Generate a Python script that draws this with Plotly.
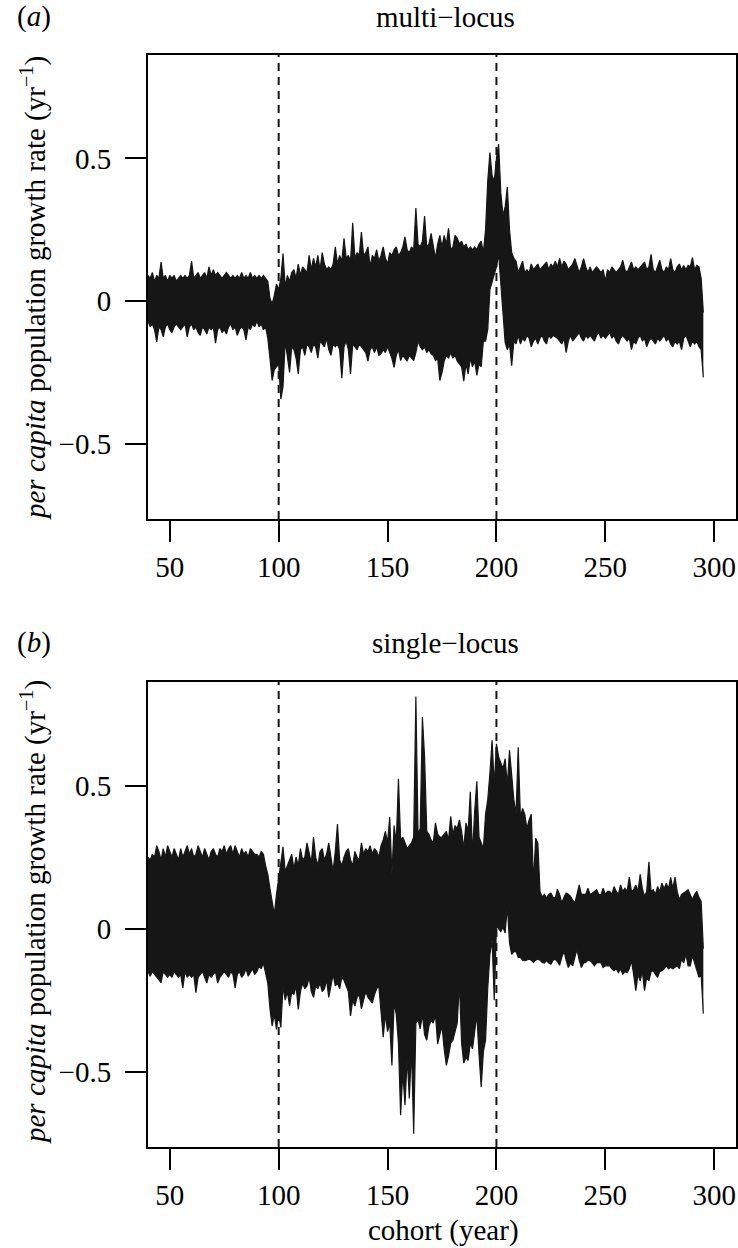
import plotly.graph_objects as go

# ---------------- data ----------------
cohort = list(range(40, 296))

# panel (a) multi-locus: upper / lower envelope of the bundle of simulated lines
multi_upper = [
    0.09, 0.08, 0.10, 0.07, 0.09, 0.08, 0.137, 0.08, 0.09, 0.07,
    0.09, 0.08, 0.09, 0.07, 0.08, 0.09, 0.08, 0.09, 0.08, 0.09,
    0.14, 0.08, 0.09, 0.10, 0.08, 0.09, 0.10, 0.08, 0.12, 0.09,
    0.11, 0.09, 0.10, 0.09, 0.08, 0.09, 0.10, 0.09, 0.08, 0.09,
    0.08, 0.09, 0.08, 0.10, 0.08, 0.09, 0.08, 0.10, 0.08, 0.09,
    0.08, 0.09, 0.08, 0.09, 0.08, 0.07, 0.01, -0.01, 0.02, 0.06,
    0.04, 0.08, 0.167, 0.05, 0.09, 0.07, 0.10, 0.11, 0.08, 0.13,
    0.09, 0.12, 0.11, 0.10, 0.16, 0.11, 0.15, 0.12, 0.16, 0.11,
    0.17, 0.13, 0.11, 0.12, 0.11, 0.13, 0.19, 0.13, 0.16, 0.14,
    0.22, 0.15, 0.16, 0.14, 0.274, 0.15, 0.17, 0.16, 0.242, 0.16,
    0.17, 0.19, 0.12, 0.16, 0.15, 0.18, 0.14, 0.16, 0.19, 0.15,
    0.13, 0.17, 0.16, 0.18, 0.19, 0.16, 0.17, 0.19, 0.225, 0.18,
    0.17, 0.19, 0.18, 0.326, 0.20, 0.19, 0.21, 0.298, 0.19, 0.20,
    0.237, 0.19, 0.15, 0.20, 0.23, 0.19, 0.23, 0.20, 0.255, 0.18,
    0.19, 0.23, 0.22, 0.20, 0.21, 0.19, 0.20, 0.18, 0.19, 0.18,
    0.19, 0.18, 0.20, 0.21, 0.17, 0.25, 0.42, 0.52, 0.44, 0.42,
    0.50, 0.55, 0.38, 0.30, 0.33, 0.40, 0.25, 0.17, 0.15, 0.14,
    0.10, 0.12, 0.14, 0.10, 0.11, 0.10, 0.13, 0.11, 0.12, 0.13,
    0.11, 0.12, 0.13, 0.137, 0.11, 0.13, 0.12, 0.14, 0.12, 0.15,
    0.12, 0.14, 0.13, 0.11, 0.12, 0.13, 0.149, 0.12, 0.10, 0.12,
    0.149, 0.12, 0.10, 0.12, 0.10, 0.11, 0.12, 0.11, 0.10, 0.11,
    0.07, 0.11, 0.10, 0.12, 0.11, 0.10, 0.11, 0.12, 0.143, 0.11,
    0.10, 0.12, 0.137, 0.11, 0.12, 0.11, 0.12, 0.13, 0.137, 0.11,
    0.12, 0.164, 0.11, 0.10, 0.12, 0.143, 0.11, 0.10, 0.12, 0.11,
    0.149, 0.11, 0.10, 0.12, 0.13, 0.11, 0.125, 0.11, 0.125, 0.12,
    0.152, 0.11, 0.125, 0.12, 0.08, -0.04,
]
multi_lower = [
    -0.07, -0.09, -0.08, -0.10, -0.143, -0.09, -0.10, -0.125, -0.09, -0.08,
    -0.10, -0.11, -0.09, -0.08, -0.09, -0.10, -0.09, -0.08, -0.125, -0.09,
    -0.08, -0.10, -0.09, -0.11, -0.12, -0.09, -0.10, -0.115, -0.09, -0.10,
    -0.09, -0.147, -0.10, -0.09, -0.11, -0.10, -0.115, -0.09, -0.08, -0.10,
    -0.09, -0.12, -0.10, -0.09, -0.10, -0.136, -0.09, -0.10, -0.08, -0.09,
    -0.07, -0.09, -0.08, -0.10, -0.09, -0.13, -0.20, -0.278, -0.24, -0.23,
    -0.22, -0.343, -0.30, -0.14, -0.20, -0.25, -0.16, -0.17, -0.20, -0.255,
    -0.17, -0.16, -0.19, -0.15, -0.16, -0.18, -0.15, -0.16, -0.20, -0.14,
    -0.15, -0.16, -0.13, -0.17, -0.19, -0.15, -0.16, -0.15, -0.17, -0.27,
    -0.16, -0.14, -0.17, -0.255, -0.15, -0.16, -0.17, -0.15, -0.16, -0.17,
    -0.18, -0.21, -0.17, -0.16, -0.18, -0.16, -0.19, -0.185, -0.17, -0.18,
    -0.16, -0.18, -0.20, -0.232, -0.19, -0.17, -0.208, -0.19, -0.20, -0.21,
    -0.19, -0.20, -0.208, -0.18, -0.14, -0.16, -0.17, -0.16, -0.18, -0.17,
    -0.185, -0.19, -0.208, -0.20, -0.278, -0.25, -0.21, -0.19, -0.20, -0.18,
    -0.20, -0.19, -0.21, -0.22, -0.23, -0.28, -0.22, -0.255, -0.20, -0.23,
    -0.21, -0.26, -0.22, -0.23, -0.14, -0.14, -0.10, 0.04, 0.07, 0.09,
    0.12, 0.166, 0.05, -0.06, -0.145, -0.17, -0.15, -0.226, -0.14, -0.15,
    -0.12, -0.15, -0.13, -0.14, -0.12, -0.13, -0.16, -0.14, -0.13, -0.15,
    -0.13, -0.12, -0.14, -0.15, -0.12, -0.13, -0.12, -0.125, -0.13, -0.14,
    -0.15, -0.13, -0.18, -0.14, -0.12, -0.14, -0.13, -0.12, -0.11, -0.13,
    -0.14, -0.12, -0.13, -0.12, -0.13, -0.14, -0.12, -0.11, -0.13, -0.12,
    -0.13, -0.12, -0.11, -0.13, -0.12, -0.14, -0.15, -0.13, -0.12, -0.13,
    -0.14, -0.13, -0.17, -0.14, -0.15, -0.13, -0.12, -0.14, -0.13, -0.16,
    -0.14, -0.13, -0.14, -0.15, -0.13, -0.14, -0.13, -0.12, -0.14, -0.13,
    -0.15, -0.16, -0.14, -0.15, -0.14, -0.17, -0.13, -0.12, -0.14, -0.16,
    -0.14, -0.15, -0.14, -0.16, -0.17, -0.267,
]

# panel (b) single-locus
single_upper = [
    0.25, 0.24, 0.26, 0.25, 0.29, 0.27, 0.24, 0.28, 0.25, 0.29,
    0.27, 0.25, 0.28, 0.26, 0.24, 0.28, 0.25, 0.27, 0.29, 0.26,
    0.28, 0.25, 0.26, 0.29, 0.27, 0.25, 0.28, 0.26, 0.24, 0.27,
    0.28, 0.26, 0.25, 0.28, 0.27, 0.29, 0.26, 0.28, 0.29, 0.26,
    0.29, 0.27, 0.25, 0.28, 0.26, 0.27, 0.25, 0.28, 0.27, 0.26,
    0.26, 0.25, 0.27, 0.26, 0.22, 0.19, 0.14, 0.10, 0.05, 0.12,
    0.18, 0.22, 0.286, 0.20, 0.22, 0.24, 0.26, 0.21, 0.25, 0.22,
    0.28, 0.24, 0.25, 0.30, 0.26, 0.23, 0.32, 0.25, 0.22, 0.27,
    0.28, 0.24, 0.26, 0.30, 0.25, 0.20, 0.27, 0.366, 0.24, 0.22,
    0.25, 0.27, 0.28, 0.24, 0.22, 0.27, 0.25, 0.24, 0.30, 0.26,
    0.28, 0.27, 0.29, 0.26, 0.28, 0.27, 0.25, 0.29, 0.31, 0.34,
    0.30, 0.39, 0.19, 0.36, 0.30, 0.524, 0.31, 0.32, 0.30, 0.28,
    0.29, 0.30, 0.32, 0.811, 0.33, 0.35, 0.74, 0.60, 0.34, 0.33,
    0.31, 0.30, 0.37, 0.33, 0.32, 0.32, 0.33, 0.34, 0.31, 0.393,
    0.33, 0.36, 0.35, 0.38, 0.34, 0.28, 0.37, 0.34, 0.478, 0.26,
    0.41, 0.515, 0.32, 0.30, 0.28, 0.40, 0.45, 0.542, 0.658, 0.50,
    0.646, 0.60, 0.58, 0.56, 0.594, 0.50, 0.623, 0.53, 0.45, 0.40,
    0.634, 0.39, 0.42, 0.40, 0.35, 0.38, 0.40, 0.16, 0.316, 0.30,
    0.13, 0.11, 0.12, 0.107, 0.12, 0.124, 0.11, 0.107, 0.138, 0.12,
    0.09, 0.11, 0.124, 0.12, 0.113, 0.10, 0.09, 0.12, 0.153, 0.12,
    0.119, 0.12, 0.141, 0.12, 0.124, 0.13, 0.136, 0.12, 0.119, 0.141,
    0.12, 0.13, 0.13, 0.12, 0.147, 0.13, 0.12, 0.153, 0.13, 0.141,
    0.13, 0.18, 0.13, 0.136, 0.153, 0.13, 0.19, 0.14, 0.113, 0.13,
    0.234, 0.13, 0.136, 0.12, 0.147, 0.13, 0.159, 0.14, 0.159, 0.14,
    0.179, 0.14, 0.18, 0.13, 0.101, 0.12, 0.124, 0.13, 0.136, 0.12,
    0.101, 0.12, 0.13, 0.11, 0.095, -0.07,
]
single_lower = [
    -0.15, -0.166, -0.15, -0.16, -0.17, -0.18, -0.189, -0.15, -0.16, -0.17,
    -0.16, -0.17, -0.15, -0.16, -0.17, -0.16, -0.207, -0.15, -0.17, -0.16,
    -0.17, -0.16, -0.224, -0.17, -0.16, -0.15, -0.17, -0.19, -0.16, -0.17,
    -0.16, -0.15, -0.19, -0.17, -0.16, -0.15, -0.16, -0.17, -0.15, -0.16,
    -0.207, -0.16, -0.15, -0.17, -0.16, -0.14, -0.166, -0.15, -0.14, -0.16,
    -0.15, -0.13, -0.14, -0.12, -0.15, -0.19, -0.28, -0.34, -0.30, -0.352,
    -0.30, -0.345, -0.20, -0.25, -0.22, -0.27, -0.22, -0.23, -0.20, -0.282,
    -0.22, -0.19, -0.21, -0.20, -0.17, -0.22, -0.24, -0.20, -0.21, -0.19,
    -0.22, -0.21, -0.18, -0.24, -0.20, -0.16, -0.20, -0.19, -0.21, -0.17,
    -0.18, -0.20, -0.22, -0.305, -0.25, -0.27, -0.24, -0.23, -0.28, -0.25,
    -0.22, -0.24, -0.25, -0.26, -0.23, -0.21, -0.20, -0.28, -0.379, -0.30,
    -0.36, -0.33, -0.478, -0.26, -0.30, -0.40, -0.652, -0.50, -0.617, -0.45,
    -0.593, -0.42, -0.717, -0.33, -0.32, -0.35, -0.30, -0.37, -0.39, -0.34,
    -0.32, -0.33, -0.30, -0.403, -0.37, -0.34, -0.42, -0.478, -0.445, -0.40,
    -0.39, -0.36, -0.33, -0.19, -0.40, -0.47, -0.45, -0.46, -0.40, -0.42,
    -0.36, -0.30, -0.44, -0.553, -0.43, -0.39, -0.21, -0.09, -0.04, -0.25,
    0.01, 0.0, -0.01, 0.005, -0.015, 0.08, -0.05, -0.09, -0.08, -0.08,
    -0.10, -0.10, -0.11, -0.112, -0.11, -0.107, -0.11, -0.118, -0.11, -0.107,
    -0.11, -0.118, -0.12, -0.112, -0.12, -0.124, -0.11, -0.107, -0.115, -0.128,
    -0.10, -0.078, -0.11, -0.136, -0.12, -0.13, -0.10, -0.072, -0.11, -0.136,
    -0.12, -0.118, -0.11, -0.112, -0.12, -0.13, -0.12, -0.118, -0.12, -0.136,
    -0.13, -0.13, -0.13, -0.14, -0.147, -0.14, -0.153, -0.14, -0.159, -0.15,
    -0.153, -0.14, -0.112, -0.16, -0.217, -0.16, -0.182, -0.15, -0.217, -0.17,
    -0.182, -0.15, -0.147, -0.16, -0.17, -0.15, -0.147, -0.14, -0.13, -0.14,
    -0.136, -0.14, -0.136, -0.13, -0.14, -0.107, -0.12, -0.089, -0.13, -0.13,
    -0.095, -0.12, -0.14, -0.17, -0.16, -0.297,
]

x_ticks = [50, 100, 150, 200, 250, 300]
y_ticks = [-0.5, 0, 0.5]
y_tick_text = ["\u22120.5", "0", "0.5"]
change_years = [100, 200]
panel_titles = ["multi\u2212locus", "single\u2212locus"]
panel_tags = ["(<i>a</i>)", "(<i>b</i>)"]
y_title = "<i>per capita</i> population growth rate (yr<sup>\u22121</sup>)"
x_title = "cohort (year)"

for arr in (multi_upper, multi_lower, single_upper, single_lower):
    assert len(arr) == len(cohort), len(arr)

# ---------------- figure ----------------
W, H = 738, 1248
INK = "#161616"
FONT = "Liberation Serif, Times New Roman, serif"
FS = 29

def py(px):  # pixel row -> paper fraction
    return 1 - px / H

def pxf(px):
    return px / W

fig = go.Figure()
panels = [
    ("x", "y", multi_lower, multi_upper),
    ("x2", "y2", single_lower, single_upper),
]
for xa, ya, lo, up in panels:
    fig.add_trace(go.Scatter(x=cohort, y=lo, mode="lines", xaxis=xa, yaxis=ya,
                             line=dict(color=INK, width=1.2), showlegend=False,
                             hoverinfo="skip"))
    fig.add_trace(go.Scatter(x=cohort, y=up, mode="lines", xaxis=xa, yaxis=ya,
                             fill="tonexty", fillcolor=INK,
                             line=dict(color=INK, width=1.2), showlegend=False,
                             hoverinfo="skip"))

XR = [40, 310]
YR = [-0.763, 0.862]
xdom = [pxf(148), pxf(736)]
ydoms = [[py(519), py(55)], [py(1147), py(682)]]

axis_common = dict(showgrid=False, zeroline=False, showline=True, mirror=True,
                   linecolor="black", linewidth=2, ticks="outside", ticklen=21,
                   tickwidth=2, tickcolor="black",
                   tickfont=dict(family=FONT, size=FS, color="black"))

fig.update_layout(
    width=W, height=H,
    margin=dict(l=0, r=0, t=0, b=0),
    paper_bgcolor="white", plot_bgcolor="white",
    xaxis=dict(domain=xdom, range=XR, anchor="y", tickvals=x_ticks,
               ticklabelstandoff=0, **axis_common),
    yaxis=dict(domain=ydoms[0], range=YR, anchor="x", tickvals=y_ticks,
               ticktext=y_tick_text, ticklabelstandoff=8, **axis_common),
    xaxis2=dict(domain=xdom, range=XR, anchor="y2", tickvals=x_ticks,
                ticklabelstandoff=0, **axis_common),
    yaxis2=dict(domain=ydoms[1], range=YR, anchor="x2", tickvals=y_ticks,
                ticktext=y_tick_text, ticklabelstandoff=8, **axis_common),
)

shapes = []
for ya in ("y", "y2"):
    xa = "x" if ya == "y" else "x2"
    for cy in change_years:
        shapes.append(dict(type="line", xref=xa, yref=f"{ya} domain",
                           x0=cy, x1=cy, y0=0, y1=1,
                           line=dict(color=INK, width=2, dash="8px,6px"),
                           layer="above"))
fig.update_layout(shapes=shapes)

ann = []
font = dict(family=FONT, size=FS, color="black")
title_rows = [17, 643]
mid_rows = [288, 912]
for i in range(2):
    ann.append(dict(text=panel_titles[i], x=pxf(445), y=py(title_rows[i]),
                    xref="paper", yref="paper", xanchor="center", yanchor="middle",
                    showarrow=False, font=font))
    ann.append(dict(text=panel_tags[i], x=pxf(15), y=py(title_rows[i]),
                    xref="paper", yref="paper", xanchor="left", yanchor="middle",
                    showarrow=False, font=font))
    ann.append(dict(text=y_title, x=pxf(33), y=py(mid_rows[i]),
                    xref="paper", yref="paper", xanchor="center", yanchor="middle",
                    textangle=-90, showarrow=False, font=font))
ann.append(dict(text=x_title, x=pxf(443), y=py(1230), xref="paper", yref="paper",
                xanchor="center", yanchor="middle", showarrow=False, font=font))
fig.update_layout(annotations=ann)

fig.write_html(
    "out.html",
    config={"displayModeBar": False},
    post_script="document.body.style.margin='0';document.body.style.overflow='hidden';",
)
